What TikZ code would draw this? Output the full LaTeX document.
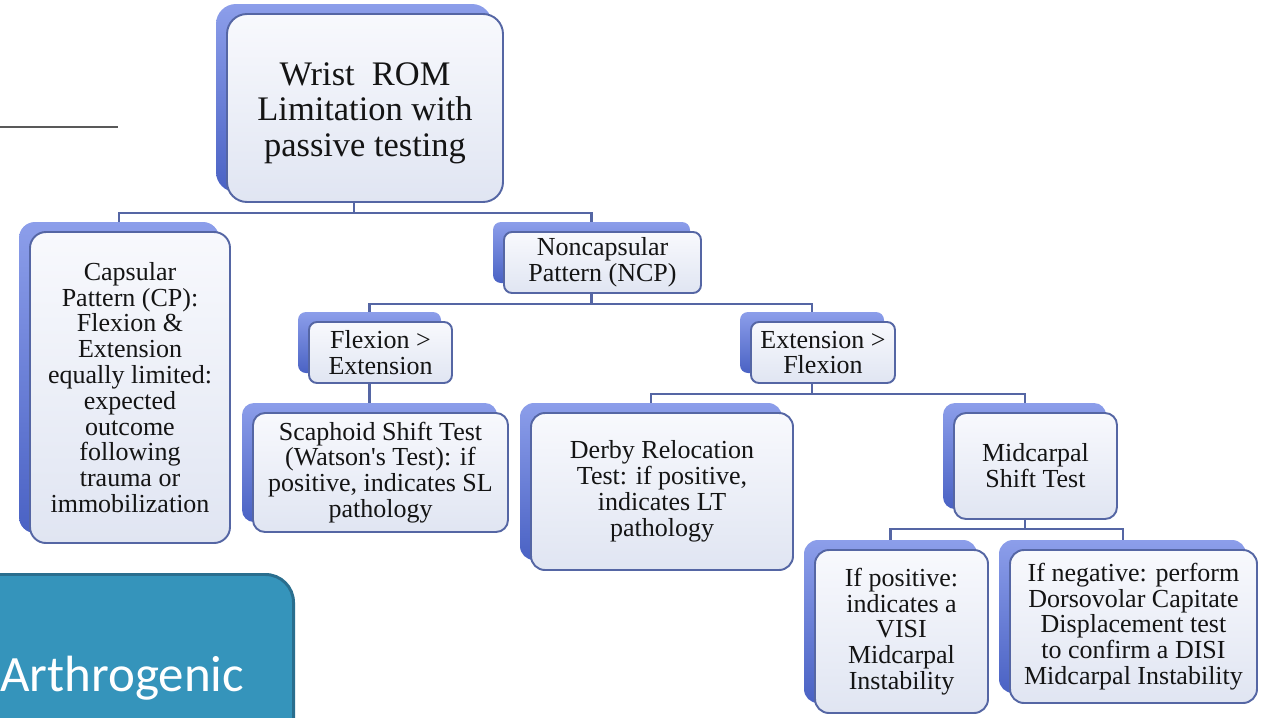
\documentclass[tikz,border=0pt]{standalone}
\usepackage{fontspec}
\setmainfont{Liberation Serif}
\newfontfamily\plainserif{Liberation Serif}
\newfontfamily\arthfont{Carlito}
\usetikzlibrary{backgrounds}
\newlength\pxu
\setlength\pxu{0.02cm}
\definecolor{edgec}{HTML}{5566A4}
\definecolor{shtop}{HTML}{8C9EEA}
\definecolor{shbot}{HTML}{4A62C4}
\definecolor{fronttop}{HTML}{F8F9FD}
\definecolor{frontbot}{HTML}{E0E5F2}
\definecolor{arthfill}{HTML}{3594BB}
\definecolor{arthedge}{HTML}{2A6E8E}
\definecolor{inkc}{HTML}{141414}
\tikzset{
  card/.style={draw=edgec, line width=1.1pt, top color=fronttop, bottom color=frontbot,
    align=center, inner sep=0pt, text=inkc,
    preaction={draw=none, top color=shtop, bottom color=shbot,
      transform canvas={shift={(-11\pxu,10\pxu)}}}},
  body/.style={font=\fontsize{14.8}{14.7}\selectfont},
  big/.style={font=\fontsize{19.6}{20.3}\selectfont},
  link/.style={draw=edgec, line width=1.15pt},
}
\begin{document}
\begin{tikzpicture}[x=0.02cm,y=-0.02cm]
\useasboundingbox (0,0) rectangle (1268,717);
% top-left rule
\draw[line width=1.2pt, color=black!65] (0,127) -- (118,127);
% cards
\node[card, big, minimum width=276\pxu, minimum height=188\pxu, rounded corners=20\pxu] (wrist) at (365,108) {\rule{0pt}{19pt}Wrist~ ROM\\Limitation with\\passive testing};
\node[card, body, minimum width=200\pxu, minimum height=311\pxu, rounded corners=16\pxu] (caps) at (130,387.5) {Capsular\\Pattern (CP):\\Flexion \&\\Extension\\equally limited:\\expected\\outcome\\following\\trauma or\\immobilization};
\node[card, body, minimum width=197\pxu, minimum height=61\pxu, rounded corners=8\pxu] (ncp) at (602.5,262.5) {Noncapsular\\Pattern (NCP)};
\node[card, body, minimum width=143\pxu, minimum height=61\pxu, rounded corners=8\pxu] (flex) at (380.5,352.5) {Flexion >\\Extension};
\node[card, body, minimum width=144\pxu, minimum height=61\pxu, rounded corners=8\pxu] (extf) at (823,352.5) {Extension >\\Flexion};
\node[card, body, minimum width=255\pxu, minimum height=119\pxu, rounded corners=12\pxu] (scap) at (380.5,472.5) {Scaphoid Shift Test\\(Watson{\plainserif '}s Test): if\\positive, indicates SL\\pathology};
\node[card, body, minimum width=262\pxu, minimum height=157\pxu, rounded corners=14\pxu] (derby) at (662,491.5) {Derby Relocation\\Test: if positive,\\indicates LT\\pathology};
\node[card, body, minimum width=163\pxu, minimum height=106\pxu, rounded corners=12\pxu] (mid) at (1035.5,466) {Midcarpal\\Shift Test};
\node[card, body, minimum width=173\pxu, minimum height=163\pxu, rounded corners=14\pxu] (visi) at (901.5,631.5) {If positive:\\indicates a\\VISI\\Midcarpal\\Instability};
\node[card, body, minimum width=247\pxu, minimum height=153\pxu, rounded corners=14\pxu] (disi) at (1133.5,626.5) {If negative: perform\\Dorsovolar Capitate\\Displacement test\\to confirm a DISI\\Midcarpal Instability};
% connectors
\begin{scope}[on background layer]
\draw[link] ([xshift=-11\pxu]wrist.south) -- ++(0,10) -| ([xshift=-11\pxu]caps.north);
\draw[link] ([xshift=-11\pxu]wrist.south) -- ++(0,10) -| ([xshift=-11\pxu]ncp.north);
\draw[link] ([xshift=-11\pxu]ncp.south) -- ++(0,10) -| ([xshift=-11\pxu]flex.north);
\draw[link] ([xshift=-11\pxu]ncp.south) -- ++(0,10) -| ([xshift=-11\pxu]extf.north);
\draw[link] ([xshift=-11\pxu]flex.south) -- ([xshift=-11\pxu]scap.north);
\draw[link] ([xshift=-11\pxu]extf.south) -- ++(0,10) -| ([xshift=-11\pxu]derby.north);
\draw[link] ([xshift=-11\pxu]extf.south) -- ++(0,10) -| ([xshift=-11\pxu]mid.north);
\draw[link] ([xshift=-11\pxu]mid.south) -- ++(0,9) -| ([xshift=-11\pxu]visi.north);
\draw[link] ([xshift=-11\pxu]mid.south) -- ++(0,9) -| ([xshift=-11\pxu]disi.north);
\end{scope}
% Arthrogenic tab
\begin{scope}
\clip (0,0) rectangle (1268,717);
\node[draw=arthedge, fill=arthfill, line width=1.7pt, rounded corners=28\pxu, minimum width=330\pxu, minimum height=190\pxu, anchor=north east, inner sep=0pt] (arthbox) at (295,573) {};
\end{scope}
\node[anchor=base west, text=white, font=\arthfont\fontsize{29}{32}\selectfont, inner sep=0pt] (arth) at (0,691) {Arthrogenic};
\end{tikzpicture}
\end{document}
